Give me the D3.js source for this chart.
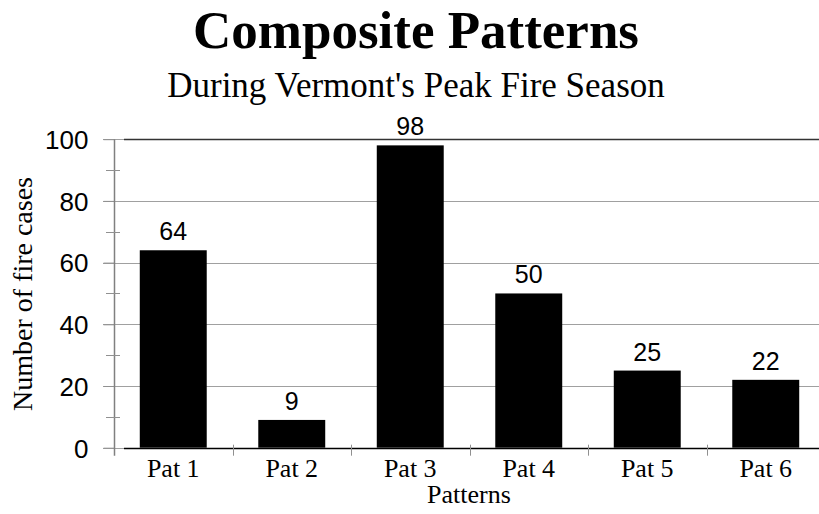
<!DOCTYPE html>
<html lang="en">
<head>
    <meta charset="UTF-8">
    <title>Composite Patterns</title>
    <script src="https://d3js.org/d3.v7.min.js"></script>
    <style>
        body {
            margin: 0;
            background: #fff;
        }
        svg {
            display: block;
        }
    </style>
</head>
<body>
    <script>
        // Data
        const categories = ["Pat 1", "Pat 2", "Pat 3", "Pat 4", "Pat 5", "Pat 6"];
        const values = [64, 9, 98, 50, 25, 22];
        const majorTicks = [0, 20, 40, 60, 80, 100];
        const minorTicks = [10, 30, 50, 70, 90];

        const width = 819, height = 514;
        const plotLeft = 114, plotRight = 825, plotTop = 139.2, plotBottom = 447.7;

        const svg = d3.select("body")
            .append("svg")
            .attr("width", width)
            .attr("height", height);

        const x = d3.scaleBand()
            .domain(categories)
            .range([plotLeft, plotRight])
            .paddingInner(0.435)
            .paddingOuter(0.2175);

        const y = d3.scaleLinear()
            .domain([0, 100])
            .range([plotBottom, plotTop]);

        // Gridlines (grey)
        svg.selectAll("line.grid")
            .data(majorTicks)
            .enter()
            .append("line")
            .attr("class", "grid")
            .attr("x1", plotLeft - 11)
            .attr("x2", width)
            .attr("y1", d => Math.round(y(d)) + 0.5)
            .attr("y2", d => Math.round(y(d)) + 0.5)
            .attr("stroke", "#a0a0a0")
            .attr("stroke-width", 1);

        // Dark frame lines at top and bottom of the plot
        svg.selectAll("line.frame")
            .data([0, 100])
            .enter()
            .append("line")
            .attr("class", "frame")
            .attr("x1", plotLeft + 10)
            .attr("x2", width)
            .attr("y1", d => Math.round(y(d)) + 0.5)
            .attr("y2", d => Math.round(y(d)) + 0.5)
            .attr("stroke", d => d === 0 ? "#000" : "#333")
            .attr("stroke-width", 1.5);

        // Bars
        svg.selectAll("rect.bar")
            .data(values)
            .enter()
            .append("rect")
            .attr("class", "bar")
            .attr("x", (d, i) => x(categories[i]))
            .attr("width", x.bandwidth())
            .attr("y", d => y(d))
            .attr("height", d => y(0) - y(d))
            .attr("fill", "#000");

        // Value labels
        svg.selectAll("text.value")
            .data(values)
            .enter()
            .append("text")
            .attr("class", "value")
            .attr("x", (d, i) => x(categories[i]) + x.bandwidth() / 2)
            .attr("y", d => y(d) - 10)
            .attr("text-anchor", "middle")
            .style("font-family", "Liberation Sans, Arial, sans-serif")
            .style("font-size", "25px")
            .text(d => d);

        // Y axis
        const yAxis = svg.append("g")
            .attr("transform", `translate(${plotLeft + 0.5},0)`)
            .call(d3.axisLeft(y).tickValues(majorTicks).tickSize(11).tickPadding(15))
            .style("font-family", "Liberation Sans, Arial, sans-serif")
            .style("font-size", "26px");
        yAxis.select(".domain").remove();
        yAxis.selectAll(".tick line").attr("stroke", "#909090");
        yAxis.selectAll(".tick text").attr("fill", "#000").attr("dy", "0.36em");

        svg.append("line")
            .attr("x1", plotLeft + 0.5).attr("x2", plotLeft + 0.5)
            .attr("y1", plotTop).attr("y2", plotBottom + 8)
            .attr("stroke", "#808080")
            .attr("stroke-width", 1.5);

        // Minor ticks crossing the axis
        svg.selectAll("line.minor")
            .data(minorTicks)
            .enter()
            .append("line")
            .attr("class", "minor")
            .attr("x1", plotLeft - 8)
            .attr("x2", plotLeft + 6)
            .attr("y1", d => Math.round(y(d)) + 0.5)
            .attr("y2", d => Math.round(y(d)) + 0.5)
            .attr("stroke", "#909090");

        // X axis category ticks between bands
        const step = x.step();
        svg.selectAll("line.xtick")
            .data(d3.range(1, categories.length))
            .enter()
            .append("line")
            .attr("class", "xtick")
            .attr("x1", d => Math.round(plotLeft + d * step) + 0.5)
            .attr("x2", d => Math.round(plotLeft + d * step) + 0.5)
            .attr("y1", plotBottom - 3)
            .attr("y2", plotBottom + 8)
            .attr("stroke", "#909090");

        // X labels
        svg.selectAll("text.cat")
            .data(categories)
            .enter()
            .append("text")
            .attr("class", "cat")
            .attr("x", d => x(d) + x.bandwidth() / 2)
            .attr("y", 477)
            .attr("text-anchor", "middle")
            .style("font-family", "Liberation Serif, Times New Roman, serif")
            .style("font-size", "26px")
            .text(d => d);

        // Axis titles
        svg.append("text")
            .attr("x", 469)
            .attr("y", 503)
            .attr("text-anchor", "middle")
            .style("font-family", "Liberation Serif, Times New Roman, serif")
            .style("font-size", "26px")
            .text("Patterns");

        svg.append("text")
            .attr("transform", "translate(32,294) rotate(-90)")
            .attr("text-anchor", "middle")
            .style("font-family", "Liberation Serif, Times New Roman, serif")
            .style("font-size", "28px")
            .text("Number of fire cases");

        // Titles
        svg.append("text")
            .attr("x", 416)
            .attr("y", 48)
            .attr("text-anchor", "middle")
            .style("font-family", "Liberation Serif, Times New Roman, serif")
            .style("font-weight", "bold")
            .style("font-size", "53px")
            .text("Composite Patterns");

        svg.append("text")
            .attr("x", 416)
            .attr("y", 97)
            .attr("text-anchor", "middle")
            .style("font-family", "Liberation Serif, Times New Roman, serif")
            .style("font-size", "35px")
            .text("During Vermont's Peak Fire Season");
    </script>
</body>
</html>
